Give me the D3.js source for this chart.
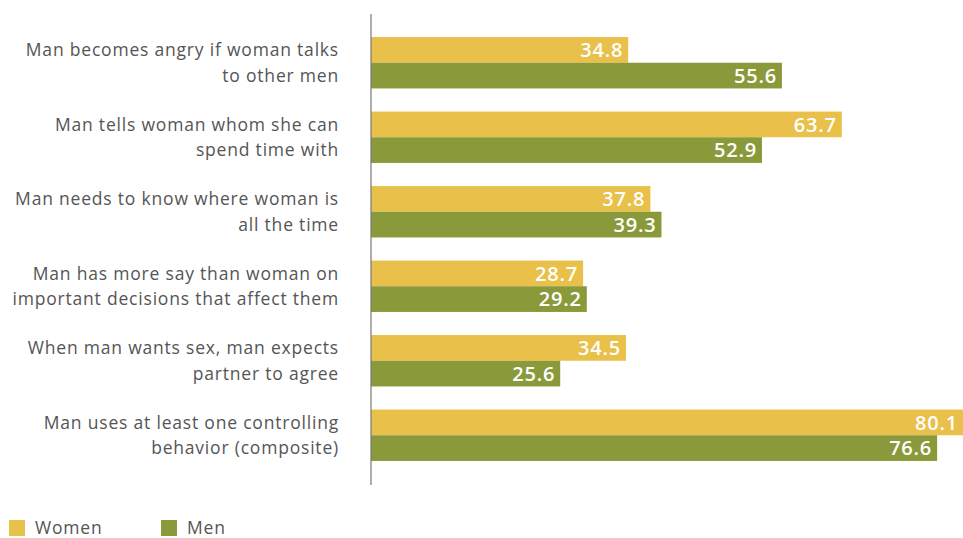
<!DOCTYPE html>
<html><head><meta charset="utf-8">
<script src="https://cdn.jsdelivr.net/npm/d3@7"></script>
<style>
body{margin:0;background:#fff;}
svg{display:block;font-family:"Open Sans", Lato, sans-serif;}
</style></head>
<body>
<svg id="chart" width="963" height="538"></svg>
<script>
const categories = [
  ["Man becomes angry if woman talks", "to other men"],
  ["Man tells woman whom she can", "spend time with"],
  ["Man needs to know where woman is", "all the time"],
  ["Man has more say than woman on", "important decisions that affect them"],
  ["When man wants sex, man expects", "partner to agree"],
  ["Man uses at least one controlling", "behavior (composite)"]
];
const seriesNames = ["Women", "Men"];
const women = [34.8, 63.7, 37.8, 28.7, 34.5, 80.1];
const men = [55.6, 52.9, 39.3, 29.2, 25.6, 76.6];
const colors = ["#E9C04A", "#8A9A3B"];

const svg = d3.select("#chart");
const keys = categories.map((c, i) => i);
const x = d3.scaleLinear().domain([0, 80.1]).range([371, 963]);
const y = d3.scaleBand().domain(keys).range([25.5, 472.5]).paddingInner(0.31).paddingOuter(0.155);
const ySub = d3.scaleBand().domain(seriesNames).range([0, y.bandwidth()]);
const color = d3.scaleOrdinal().domain(seriesNames).range(colors);

const data = keys.map(i => ({i, vals: [
  {s: "Women", v: women[i]}, {s: "Men", v: men[i]}
]}));

const g = svg.selectAll("g.grp").data(data).join("g")
  .attr("transform", d => `translate(0,${y(d.i)})`);

g.selectAll("rect").data(d => d.vals).join("rect")
  .attr("x", x(0))
  .attr("y", d => ySub(d.s))
  .attr("width", d => x(d.v) - x(0))
  .attr("height", ySub.bandwidth())
  .attr("fill", d => color(d.s));

g.selectAll("text.val").data(d => d.vals).join("text")
  .attr("class", "val")
  .attr("x", d => x(d.v) - 5)
  .attr("y", d => ySub(d.s) + ySub.bandwidth() / 2)
  .attr("dy", "0.36em")
  .attr("text-anchor", "end")
  .attr("fill", "#fff")
  .attr("font-size", 20)
  .attr("font-weight", 600)
  .attr("letter-spacing", 0.8)
  .text(d => d.v.toFixed(1));

// category labels
svg.selectAll("text.cat").data(data).join("text")
  .attr("class", "cat")
  .attr("text-anchor", "end")
  .attr("fill", "#555")
  .attr("font-size", 17.5)
  .attr("letter-spacing", 0.8)
  .each(function(d) {
    const t = d3.select(this);
    categories[d.i].forEach((line, k) => {
      t.append("tspan")
        .attr("x", 339)
        .attr("y", y(d.i) + ySub(seriesNames[k]) + ySub.bandwidth() / 2)
        .attr("dy", "0.36em")
        .text(line);
    });
  });

// axis line
const yAxis = d3.axisLeft(y).tickSize(0).tickFormat("");
svg.append("g").attr("transform", `translate(${x(0)},0)`).call(yAxis)
  .call(a => a.select(".domain").attr("stroke", "#777").attr("stroke-width", 1.2)
    .attr("d", "M0,14V485"));

// legend
const leg = svg.selectAll("g.leg").data(seriesNames).join("g")
  .attr("transform", (d, i) => `translate(${9 + i * 152},520)`);
leg.append("rect").attr("width", 16).attr("height", 16).attr("fill", d => color(d));
leg.append("text").attr("x", 26).attr("y", 8).attr("dy", "0.34em")
  .attr("fill", "#555").attr("font-size", 17.5).attr("letter-spacing", 0.8).text(d => d);
</script>
</body></html>
